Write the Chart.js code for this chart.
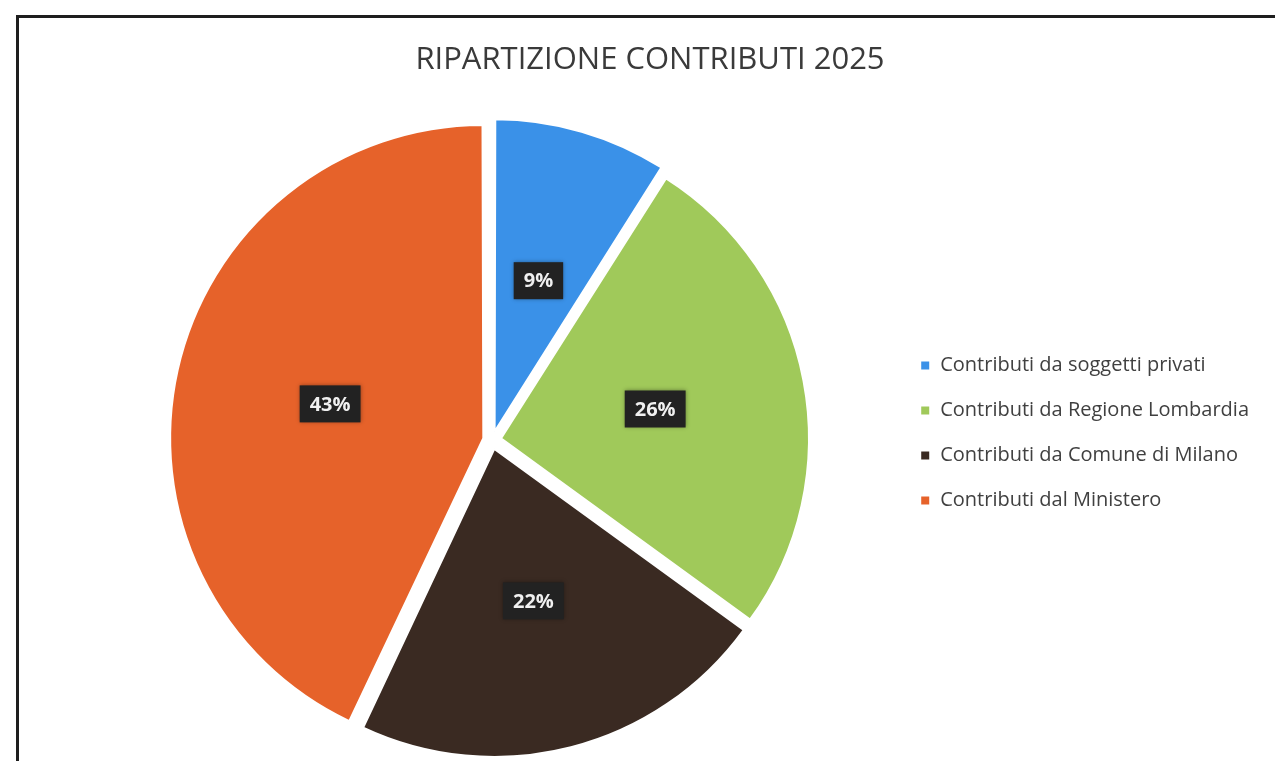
<!DOCTYPE html>
<html>
<head>
<meta charset="utf-8">
<script src="https://cdn.jsdelivr.net/npm/chart.js@4"></script>
<style>
  html, body { margin: 0; padding: 0; background: #fff; }
  #wrap { position: relative; width: 1275px; height: 761px; overflow: hidden; }
  #frame { position: absolute; left: 16px; top: 15px; width: 1300px; height: 800px;
           border-left: 3px solid #1e1e1e; border-top: 3px solid #1e1e1e; }
  canvas { position: absolute; left: 0; top: 0; }
</style>
</head>
<body>
<div id="wrap">
  <div id="frame"></div>
  <canvas id="chart" width="1275" height="761"></canvas>
</div>
<script>
const title = 'RIPARTIZIONE CONTRIBUTI 2025'
const categories = [
    'Contributi da soggetti privati',
    'Contributi da Regione Lombardia',
    'Contributi da Comune di Milano',
    'Contributi dal Ministero'
]
const shares = [9, 26, 22, 43]
const colors = ['#3a91e8', '#a0c95a', '#3a2a22', '#e6622a']

const titleCenterX = 650
const legendShiftY = -7

// the title sits centred over the whole sheet, not over pie + legend,
// and the legend block sits a little above the pie centre
const nudgeBoxes = {
    id: 'nudgeBoxes',
    afterLayout(chart) {
        const t = chart.titleBlock
        const w = t.right - t.left
        t.left = titleCenterX - w / 2
        t.right = t.left + w
        const l = chart.legend
        l.top += legendShiftY
        l.bottom += legendShiftY
    }
}

// dark percentage boxes in the middle of each slice
const sliceLabels = {
    id: 'sliceLabels',
    afterDatasetsDraw(chart) {
        const { ctx } = chart
        const meta = chart.getDatasetMeta(0)
        ctx.save()
        ctx.font = 'bold 20px "Open Sans", sans-serif'
        ctx.textAlign = 'center'
        ctx.textBaseline = 'middle'
        meta.data.forEach((arc, i) => {
            const { x, y, startAngle, endAngle, outerRadius } = arc.getProps(['x', 'y', 'startAngle', 'endAngle', 'outerRadius'])
            const mid = (startAngle + endAngle) / 2
            const d = outerRadius * 0.5 + 12
            const cx = x + Math.cos(mid) * d
            const cy = y + Math.sin(mid) * d
            const text = chart.data.datasets[0].data[i] + '%'
            const w = ctx.measureText(text).width + 20
            const h = 37
            ctx.shadowColor = 'rgba(0,0,0,0.35)'
            ctx.shadowBlur = 4
            ctx.fillStyle = '#222222'
            ctx.fillRect(cx - w / 2, cy - h / 2, w, h)
            ctx.shadowColor = 'transparent'
            ctx.fillStyle = '#f0f0f0'
            ctx.fillText(text, cx, cy + 1)
        })
        ctx.restore()
    }
}

new Chart(document.getElementById('chart'), {
    type: 'pie',
    data: {
        labels: categories,
        datasets: [{
            data: shares,
            backgroundColor: colors,
            borderColor: '#ffffff',
            borderWidth: 2,
            offset: 36,
            radius: 308
        }]
    },
    options: {
        responsive: false,
        animation: false,
        layout: { padding: { left: 89, right: 16, top: 18, bottom: 0 } },
        plugins: {
            title: {
                display: true,
                text: title,
                color: '#3a3a3a',
                font: { family: '"Open Sans", sans-serif', size: 31, weight: 'normal' },
                padding: { top: 24, bottom: 40 }
            },
            legend: {
                position: 'right',
                fullSize: false,
                labels: {
                    color: '#404040',
                    font: { family: '"Open Sans", sans-serif', size: 20 },
                    boxWidth: 10,
                    boxHeight: 10,
                    padding: 25
                }
            },
            tooltip: { enabled: false }
        }
    },
    plugins: [nudgeBoxes, sliceLabels]
})
</script>
</body>
</html>
